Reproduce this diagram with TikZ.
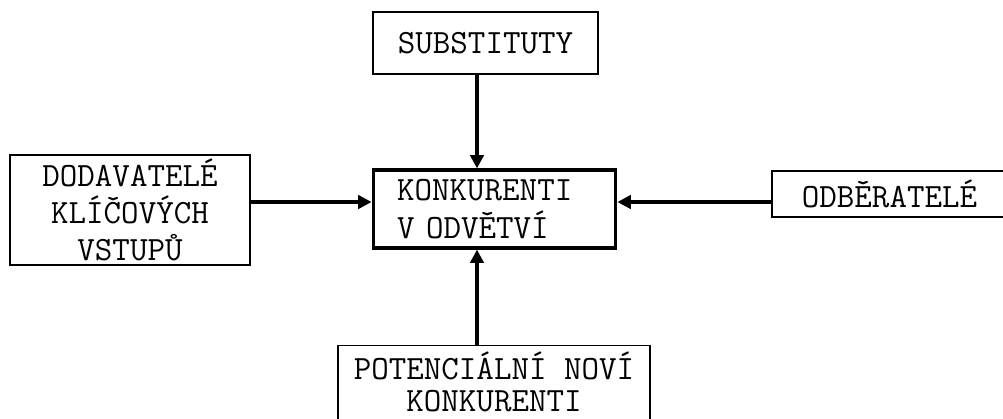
\documentclass[tikz,border=0pt]{standalone}
\usepackage{tikz}
\usetikzlibrary{arrows.meta}

\tikzset{
  box/.style={draw,line width=1.1pt,font=\ttfamily\fontsize{25.5}{28}\selectfont,align=center,inner sep=0pt},
  arr/.style={line width=2.4pt,-{Triangle[length=10pt,width=10pt]}}
}

\begin{document}
\begin{tikzpicture}[x=0.75pt,y=-0.75pt]
        \useasboundingbox (0,0) rectangle (1003,418); % page size
        \node[box,minimum width=168.75pt,minimum height=46.5pt] (subst) at (485.5,43) {SUBSTITUTY};
        \node[box,minimum width=180pt,minimum height=82.5pt] (dodav) at (130,210) {DODAVATELÉ\\KLÍČOVÝCH\\VSTUPŮ};
        \node[box,line width=2.4pt,minimum height=58.5pt,text width=146pt,inner xsep=18pt,align=left] (konk) at (494.5,209) {KONKURENTI\\V ODVĚTVÍ}; % industry box
        \node[box,minimum width=176.25pt,minimum height=34.5pt] (odber) at (889.5,194) {ODBĚRATELÉ}; % right edge off the page
        \node[box,minimum width=234pt,inner ysep=5pt,text depth=24pt,anchor=north] (pot) at (494,345) {POTENCIÁLNÍ NOVÍ\\[-4pt]KONKURENTI}; % bottom edge off the page
        \coordinate (arrx) at (477,0); % line of vertical arrows
        \coordinate (arry) at (0,202); % line of horizontal arrows
        \draw[arr] (subst.south -| arrx) -- (konk.north -| arrx);
        \draw[arr] (pot.north -| arrx) -- (konk.south -| arrx);
        \draw[arr] (dodav.east |- arry) -- (konk.west |- arry);
        \draw[arr] (odber.west |- arry) -- (konk.east |- arry);
    \end{tikzpicture}
\end{document}
